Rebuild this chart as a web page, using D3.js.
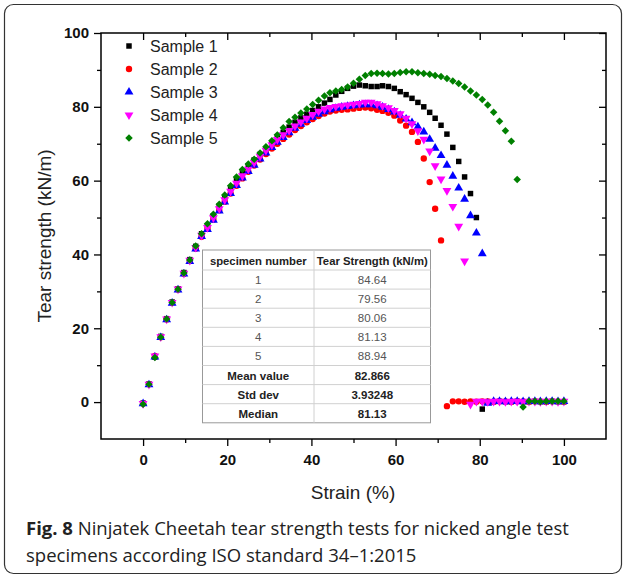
<!DOCTYPE html>
<html>
<head>
<meta charset="utf-8">
<script src="https://cdn.jsdelivr.net/npm/d3@7"></script>
<style>
  body { margin: 0; background: #fff; }
  svg { display: block; }
</style>
</head>
<body>
<script>
// strain grid shared by all five runs (%)
var strain = [0, 1.4, 2.8, 4.2, 5.6, 6.9, 8.3, 9.7, 11.1, 12.5, 13.9, 15.3, 16.7, 18.1, 19.4, 20.8,
  22.2, 23.6, 25, 26.4, 27.8, 29.2, 30.6, 31.9, 33.3, 34.7, 36.1, 37.5, 38.9, 40.3, 41.7, 43.1,
  44.4, 45.8, 47.2, 48.6, 50, 51.4, 52.8, 54.2, 55.6, 56.9, 58.3, 59.7, 61.1, 62.5, 63.9, 65.3,
  66.7, 68.1, 69.4, 70.8, 72.2, 73.6, 75, 76.4, 77.8, 79.2, 80.6, 81.9, 83.3, 84.7, 86.1, 87.5,
  88.9, 90.3, 91.7, 93.1, 94.4, 95.8, 97.2, 98.6, 100];

// tear strength (kN/m)
var sample1 = [-0.3, 4.9, 12.2, 17.8, 22.6, 27.1, 30.7, 35.1, 38.6, 42.2, 45.6, 47.8, 50.4, 53.1, 55.6, 58,
  60.3, 62.3, 64, 65.6, 67.1, 68.6, 70.1, 71.6, 73.1, 74.5, 75.8, 77, 78, 79, 80, 81,
  82, 83.2, 84.2, 85, 85.6, 85.9, 85.7, 85.5, 85.5, 85.7, 85.5, 85, 84.1, 83.3, 82.3, 81.2,
  80, 78.5, 76.9, 75, 72.6, 69, 65.2, 61, 56.5, 50, -1.9, 0.1, 0.1, 0.2, 0.1, 0.1,
  0.2, 0.1, 0.1, 0.2, 0.1, 0.1, 0.2, 0.1, 0.1];
var sample2 = [-0.4, 4.8, 12.5, 17.6, 22.4, 26.9, 30.5, 34.8, 38.2, 41.6, 44.8, 47, 49.5, 52, 54.3, 56.5,
  58.6, 60.6, 62.4, 64.1, 65.7, 67.2, 68.7, 70, 71.3, 72.5, 73.7, 74.8, 75.8, 76.7, 77.5, 78.2,
  78.7, 79, 79.2, 79.3, 79.5, 79.7, 79.8, 79.6, 79.2, 78.9, 78.4, 77.6, 76.3, 74.9, 73.2, 70.5,
  66, 59.6, 52.4, 43.8, -1.1, 0.2, 0.2, 0.1, 0.2, 0.1, 0.2, 0.2, 0.1, 0.2, 0.2, 0.1,
  0.2, 0.2, 0.1, 0.2, 0.2, 0.1, 0.2, 0.2, 0.1];
var sample3 = [-0.4, 4.7, 12.2, 17.5, 22.3, 26.8, 30.4, 34.7, 38.1, 41.5, 44.9, 46.8, 49.3, 51.8, 54.2, 56.5,
  58.7, 60.7, 62.5, 64.2, 65.9, 67.5, 69, 70.4, 71.7, 73, 74.2, 75.3, 76.3, 77.2, 78, 78.7,
  79.2, 79.6, 79.9, 80.1, 80.3, 80.5, 80.6, 80.6, 80.3, 79.9, 79.3, 78.6, 77.7, 76.7, 75.7, 74.6,
  73.2, 71.2, 68.8, 66.8, 64.2, 61.2, 58, 55, 50.5, 45.8, 40.2, -0.3, 0.2, 0.2, 0.1, 0.2,
  0.2, 0.1, 0.2, 0.2, 0.1, 0.2, 0.2, 0.1, 0.2];
var sample4 = [-0.4, 4.8, 12.5, 17.7, 22.5, 27, 30.6, 34.9, 38.4, 41.9, 45.2, 47.3, 49.9, 52.4, 54.8, 57.1,
  59.3, 61.3, 63.1, 64.9, 66.6, 68.2, 69.7, 71.1, 72.4, 73.6, 74.8, 75.9, 76.9, 77.9, 78.8, 79.4,
  79.8, 80.1, 80.3, 80.5, 80.7, 80.9, 81.2, 81.2, 80.8, 80.3, 79.7, 79, 78.1, 76.9, 75.4, 73.5,
  71.2, 68, 64, 60.4, 57.3, 53, 47.6, 38.2, -0.6, 0.2, 0.2, 0.1, 0.2, 0.2, 0.1, 0.2,
  0.2, 0.1, 0.2, 0.2, 0.1, 0.2, 0.2, 0.1, 0.2];
var sample5 = [-0.6, 4.8, 12.1, 17.6, 22.5, 27, 30.6, 35, 38.5, 42.3, 45.6, 48.3, 50.9, 53.6, 56.1, 58.6,
  61, 63, 64.5, 65.8, 67.5, 69.2, 70.8, 72.4, 74.3, 76, 77.2, 78.3, 79.4, 80.6, 81.8, 82.9,
  83.8, 84.3, 84.7, 85.4, 86.4, 87.5, 88.5, 89, 89.1, 89, 88.9, 89, 89.3, 89.5, 89.5, 89.2,
  89, 88.8, 88.5, 88.2, 87.7, 87, 86.3, 85.4, 84.3, 83.2, 82, 80.5, 78.5, 76.1, 73.5, 70.7,
  60.3, -1.3, 0.2, 0.2, 0.1, 0.2, 0.2, 0.2, 0.2];

var seriesNames = ['Sample 1', 'Sample 2', 'Sample 3', 'Sample 4', 'Sample 5'];
var seriesValues = [sample1, sample2, sample3, sample4, sample5];

var xTicks = [0, 20, 40, 60, 80, 100];
var yTicks = [0, 20, 40, 60, 80, 100];
var xMinor = [10, 30, 50, 70, 90];
var yMinor = [10, 30, 50, 70, 90];

var tableHeader = ['specimen number', 'Tear Strength (kN/m)'];
var tableLabels = ['1', '2', '3', '4', '5', 'Mean value', 'Std dev', 'Median'];
var tableValues = ['84.64', '79.56', '80.06', '81.13', '88.94', '82.866', '3.93248', '81.13'];

var captionBold = 'Fig. 8';
var captionLines = [' Ninjatek Cheetah tear strength tests for nicked angle test',
  'specimens according ISO standard 34\u20131:2015'];

var colors = ['#000000', '#ff0000', '#0000ff', '#ff00ff', '#008000'];
// diamond = square turned 45 degrees, like Origin's marker
var symbols = [d3.symbolSquare, d3.symbolCircle, d3.symbolTriangle, d3.symbolTriangle, d3.symbolSquare];
var symSizes = [30, 32, 34, 34, 28];
var rotations = [0, 0, 0, 180, 45];

var W = 627, H = 578;
var svg = d3.select('body').append('svg').attr('width', W).attr('height', H);

// figure frame
svg.append('rect')
  .attr('x', 4.5).attr('y', 4.5).attr('width', 617).attr('height', 569)
  .attr('rx', 9).attr('fill', 'none').attr('stroke', '#333').attr('stroke-width', 1.2);

var x = d3.scaleLinear().domain([-10, 110]).range([101, 606]);
var y = d3.scaleLinear().domain([-10, 100]).range([439, 33]);

var font = '"Liberation Sans", Arial, sans-serif';

var styleAxis = function(g) {
  g.select('.domain').remove();
  g.selectAll('line').attr('stroke', '#000').attr('stroke-width', 1.3);
  g.selectAll('text').attr('font-family', font).attr('font-weight', 'bold')
    .attr('font-size', 15).attr('fill', '#111');
};

// bottom / left: ticks out, labelled
svg.append('g').attr('transform', 'translate(0,439)')
  .call(d3.axisBottom(x).tickValues(xTicks).tickSize(7).tickPadding(8).tickSizeOuter(0))
  .call(styleAxis);
svg.append('g').attr('transform', 'translate(0,439)')
  .call(d3.axisBottom(x).tickValues(xMinor).tickSize(4).tickFormat('').tickSizeOuter(0))
  .call(styleAxis);
svg.append('g').attr('transform', 'translate(101,0)')
  .call(d3.axisLeft(y).tickValues(yTicks).tickSize(7).tickPadding(5).tickSizeOuter(0))
  .call(styleAxis);
svg.append('g').attr('transform', 'translate(101,0)')
  .call(d3.axisLeft(y).tickValues(yMinor).tickSize(4).tickFormat('').tickSizeOuter(0))
  .call(styleAxis);

// top / right: ticks in, no labels
svg.append('g').attr('transform', 'translate(0,33)')
  .call(d3.axisBottom(x).tickValues(xTicks).tickSize(7).tickFormat('').tickSizeOuter(0))
  .call(styleAxis);
svg.append('g').attr('transform', 'translate(0,33)')
  .call(d3.axisBottom(x).tickValues(xMinor).tickSize(4).tickFormat('').tickSizeOuter(0))
  .call(styleAxis);
svg.append('g').attr('transform', 'translate(606,0)')
  .call(d3.axisLeft(y).tickValues(yTicks).tickSize(7).tickFormat('').tickSizeOuter(0))
  .call(styleAxis);
svg.append('g').attr('transform', 'translate(606,0)')
  .call(d3.axisLeft(y).tickValues(yMinor).tickSize(4).tickFormat('').tickSizeOuter(0))
  .call(styleAxis);

svg.append('rect')
  .attr('x', 101).attr('y', 33).attr('width', 505).attr('height', 406)
  .attr('fill', 'none').attr('stroke', '#000').attr('stroke-width', 1.5);

// axis titles
svg.append('text')
  .attr('transform', 'translate(51,236) rotate(-90)')
  .attr('text-anchor', 'middle')
  .attr('font-family', font).attr('font-size', 19).attr('fill', '#222')
  .text('Tear strength (kN/m)');
svg.append('text')
  .attr('x', 353).attr('y', 499)
  .attr('text-anchor', 'middle')
  .attr('font-family', font).attr('font-size', 19).attr('fill', '#222')
  .text('Strain (%)');

// markers
var plot = svg.append('g');
seriesValues.forEach(function(vals, si) {
  var sym = d3.symbol().type(symbols[si]).size(symSizes[si]);
  plot.append('g').selectAll('path')
    .data(vals)
    .enter().append('path')
    .attr('d', sym)
    .attr('transform', function(d, i) {
      return 'translate(' + x(strain[i]) + ',' + y(d) + ') rotate(' + rotations[si] + ')';
    })
    .attr('fill', colors[si]);
});

// legend
var legend = svg.append('g');
seriesNames.forEach(function(name, i) {
  var ly = 46 + i * 23;
  legend.append('path')
    .attr('d', d3.symbol().type(symbols[i]).size(symSizes[i])())
    .attr('transform', 'translate(129,' + ly + ') rotate(' + rotations[i] + ')')
    .attr('fill', colors[i]);
  legend.append('text')
    .attr('x', 150).attr('y', ly + 5.5)
    .attr('font-family', font).attr('font-size', 16).attr('fill', '#222')
    .text(name);
});

// summary table
var tx0 = 202.5, tx1 = 314, tx2 = 430.5, ty0 = 250, headH = 20, rowH = 19.1;
var table = svg.append('g');
table.append('rect')
  .attr('x', tx0).attr('y', ty0).attr('width', tx2 - tx0).attr('height', headH + rowH * tableLabels.length)
  .attr('fill', '#fff').attr('stroke', '#999').attr('stroke-width', 1);
table.selectAll('line.row')
  .data(tableLabels)
  .enter().append('line')
  .attr('class', 'row')
  .attr('x1', tx0).attr('x2', tx2)
  .attr('y1', function(d, i) { return ty0 + headH + rowH * i; })
  .attr('y2', function(d, i) { return ty0 + headH + rowH * i; })
  .attr('stroke', '#d0d0d0').attr('stroke-width', 1);
table.append('line')
  .attr('x1', tx1).attr('x2', tx1).attr('y1', ty0).attr('y2', ty0 + headH + rowH * tableLabels.length)
  .attr('stroke', '#d0d0d0').attr('stroke-width', 1);
table.selectAll('text.head')
  .data(tableHeader)
  .enter().append('text')
  .attr('class', 'head')
  .attr('x', function(d, i) { return i === 0 ? (tx0 + tx1) / 2 : (tx1 + tx2) / 2; })
  .attr('y', ty0 + 14.5)
  .attr('text-anchor', 'middle')
  .attr('font-family', font).attr('font-size', 11.3).attr('font-weight', 'bold').attr('fill', '#222')
  .text(function(d) { return d; });
var rows = table.selectAll('g.trow')
  .data(tableLabels)
  .enter().append('g')
  .attr('class', 'trow')
  .attr('transform', function(d, i) { return 'translate(0,' + (ty0 + headH + rowH * i + 14) + ')'; });
rows.append('text')
  .attr('x', (tx0 + tx1) / 2)
  .attr('text-anchor', 'middle')
  .attr('font-family', font).attr('font-size', 11.5)
  .attr('font-weight', function(d, i) { return i >= 5 ? 'bold' : 'normal'; })
  .attr('fill', function(d, i) { return i >= 5 ? '#222' : '#555'; })
  .text(function(d) { return d; });
rows.append('text')
  .attr('x', (tx1 + tx2) / 2)
  .attr('text-anchor', 'middle')
  .attr('font-family', font).attr('font-size', 11.5)
  .attr('font-weight', function(d, i) { return i >= 5 ? 'bold' : 'normal'; })
  .attr('fill', function(d, i) { return i >= 5 ? '#222' : '#555'; })
  .text(function(d, i) { return tableValues[i]; });

// caption
var capFont = '"Open Sans", "Noto Sans", sans-serif';
var cap1 = svg.append('text')
  .attr('x', 26).attr('y', 535)
  .attr('font-family', capFont).attr('font-size', 18.5).attr('fill', '#222');
cap1.append('tspan').attr('font-weight', 'bold').text(captionBold);
cap1.append('tspan').text(captionLines[0]);
svg.append('text')
  .attr('x', 26).attr('y', 562)
  .attr('font-family', capFont).attr('font-size', 18.5).attr('fill', '#222')
  .text(captionLines[1]);
</script>
</body>
</html>
